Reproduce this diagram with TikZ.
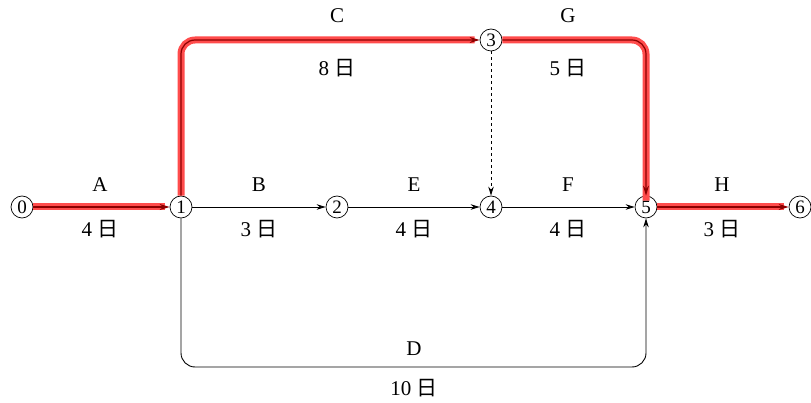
\documentclass[tikz,border=0pt]{standalone}
\usepackage{fontspec}
\setmainfont{Liberation Serif}
\newfontfamily\cjk{Noto Sans CJK SC}
\usetikzlibrary{arrows.meta}
\begin{document}
\begin{tikzpicture}[x=1pt,y=-1pt,
  ev/.style={circle,draw,line width=0.7pt,inner sep=0pt,minimum size=22pt,font=\fontsize{19}{19}\selectfont},
  act/.style={draw,line width=0.9pt,-{Stealth[length=9pt,width=5.5pt]}},
  crit/.style={draw=red!70,line width=7pt,rounded corners=14pt},
  critin/.style={draw=red!55!black,line width=1.2pt,rounded corners=14pt,-{Stealth[length=10pt,width=6pt]}},
  lab/.style={font=\fontsize{21}{21}\selectfont}]
\useasboundingbox (0,0) rectangle (811,403);
\node[ev] (n0) at (22,207) {0};
\node[ev] (n1) at (181,207) {1};
\node[ev] (n2) at (337,207) {2};
\node[ev] (n3) at (491,40) {3};
\node[ev] (n4) at (491,207) {4};
\node[ev] (n5) at (646,207) {5};
\node[ev] (n6) at (800,207) {6};
% critical path
\draw[crit] (n0.east) -- ([xshift=-5pt]n1.west);
\draw[crit] (n1.north) |- ([xshift=-5pt]n3.west);
\draw[crit] (n3.east) -| ([yshift=-5pt]n5.north);
\draw[crit] (n5.east) -- ([xshift=-5pt]n6.west);
\draw[critin] (n0.east) -- (n1.west);
\draw[critin] (n1.north) |- (n3.west);
\draw[critin] (n3.east) -| (n5.north);
\draw[critin] (n5.east) -- (n6.west);
% other activities
\draw[act] (n1) -- (n2);
\draw[act] (n2) -- (n4);
\draw[act] (n4) -- (n5);
\draw[act,dashed] (n3) -- (n4);
\coordinate (d1) at (181,367);
\coordinate (d2) at (646,367);
\draw[act,rounded corners=14pt] (n1.south) -- (d1) -- (d2) -- (n5.south);
% labels
\node[lab] (lA) at (100,185) {A};
\node[lab] (tA) at (100,229) {4 {\cjk 日}};
\node[lab] (lB) at (259,185) {B};
\node[lab] (tB) at (259,229) {3 {\cjk 日}};
\node[lab] (lE) at (414,185) {E};
\node[lab] (tE) at (414,229) {4 {\cjk 日}};
\node[lab] (lF) at (568,185) {F};
\node[lab] (tF) at (568,229) {4 {\cjk 日}};
\node[lab] (lH) at (722,185) {H};
\node[lab] (tH) at (722,229) {3 {\cjk 日}};
\node[lab] (lC) at (337,16) {C};
\node[lab] (tC) at (337,68) {8 {\cjk 日}};
\node[lab] (lG) at (568,16) {G};
\node[lab] (tG) at (568,68) {5 {\cjk 日}};
\node[lab] (lD) at (414,349) {D};
\node[lab] (tD) at (414,388) {10 {\cjk 日}};
\end{tikzpicture}
\end{document}
